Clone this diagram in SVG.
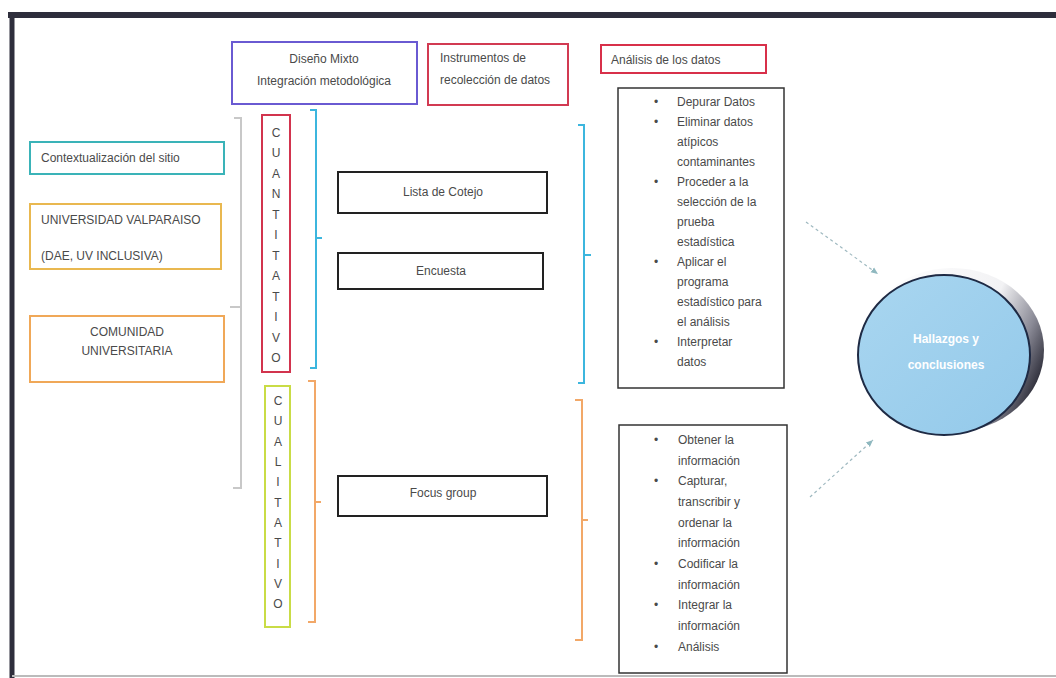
<svg xmlns="http://www.w3.org/2000/svg" width="1056" height="678" viewBox="0 0 1056 678">
<style>
text{font-family:"Liberation Sans",Arial,sans-serif;font-size:12px;fill:#4a4a4a}
.box{fill:#fff;stroke-width:2}
.blk{fill:#fff;stroke:#222;stroke-width:2}
.br{fill:none;stroke-width:2}
.c{text-anchor:middle}
.w{fill:#fff;font-weight:bold}
</style>
<defs>
<marker id="ah" markerWidth="8" markerHeight="8" refX="7" refY="4" orient="auto" markerUnits="userSpaceOnUse">
<path d="M0,1 L7,4 L0,7 Z" fill="#8fb8bf"/>
</marker>
<linearGradient id="shade" x1="0" y1="0.3" x2="1" y2="0.7">
<stop offset="0" stop-color="#ffffff"/>
<stop offset="0.6" stop-color="#f2f2f4"/>
<stop offset="0.82" stop-color="#8a8a96"/>
<stop offset="1" stop-color="#1e1e2a"/>
</linearGradient>
<linearGradient id="fillb" x1="0" y1="0" x2="1" y2="1">
<stop offset="0" stop-color="#a9d6f0"/>
<stop offset="1" stop-color="#93c9ea"/>
</linearGradient>
</defs>
<rect width="1056" height="678" fill="#fff"/>
<g id="frame">
<line x1="8" y1="15" x2="1056" y2="15" stroke="#2e2e3c" stroke-width="6"/>
<line x1="12" y1="12" x2="12" y2="678" stroke="#2e2e3c" stroke-width="5"/>
<line x1="12" y1="676" x2="1056" y2="676" stroke="#bbb" stroke-width="2"/>
</g>
<g id="n-diseno">
<rect class="box" x="232" y="42" width="185" height="62" stroke="#6a5ad2"/>
<text class="c" x="324" y="63">Diseño Mixto</text>
<text class="c" x="324" y="85">Integración metodológica</text>
</g>
<g id="n-instrumentos">
<rect class="box" x="428" y="44" width="140" height="61" stroke="#d23a52"/>
<text x="440" y="62">Instrumentos de</text>
<text x="440" y="84">recolección de datos</text>
</g>
<g id="n-analisis">
<rect class="box" x="601" y="45" width="165" height="28" stroke="#d8304a"/>
<text x="611" y="64">Análisis de  los datos</text>
</g>
<g id="n-contexto">
<rect class="box" x="30" y="142" width="194" height="32" stroke="#3ab3b8"/>
<text x="41" y="162">Contextualización del sitio</text>
</g>
<g id="n-uv">
<rect class="box" x="30" y="204" width="191" height="65" stroke="#e9b850"/>
<text x="41" y="224">UNIVERSIDAD VALPARAISO</text>
<text x="41" y="260">(DAE, UV INCLUSIVA)</text>
</g>
<g id="n-comunidad">
<rect class="box" x="30" y="316" width="194" height="66" stroke="#f0a858"/>
<text class="c" x="127" y="336">COMUNIDAD</text>
<text class="c" x="127" y="355">UNIVERSITARIA</text>
</g>
<g id="n-cuantitativo">
<rect class="box" x="262" y="115" width="28" height="257" stroke="#d2344e"/>
<text class="c" x="276" y="137">C</text>
<text class="c" x="276" y="157">U</text>
<text class="c" x="276" y="178">A</text>
<text class="c" x="276" y="198">N</text>
<text class="c" x="276" y="219">T</text>
<text class="c" x="276" y="239">I</text>
<text class="c" x="276" y="260">T</text>
<text class="c" x="276" y="280">A</text>
<text class="c" x="276" y="301">T</text>
<text class="c" x="276" y="321">I</text>
<text class="c" x="276" y="342">V</text>
<text class="c" x="276" y="362">O</text>
</g>
<g id="n-cualitativo">
<rect class="box" x="265" y="386" width="25" height="241" stroke="#c9dc46"/>
<text class="c" x="278" y="405">C</text>
<text class="c" x="278" y="425">U</text>
<text class="c" x="278" y="446">A</text>
<text class="c" x="278" y="466">L</text>
<text class="c" x="278" y="486">I</text>
<text class="c" x="278" y="507">T</text>
<text class="c" x="278" y="527">A</text>
<text class="c" x="278" y="547">T</text>
<text class="c" x="278" y="568">I</text>
<text class="c" x="278" y="588">V</text>
<text class="c" x="278" y="608">O</text>
</g>
<g id="n-lista">
<rect class="blk" x="338" y="172" width="209" height="41"/>
<text class="c" x="443" y="196">Lista de Cotejo</text>
</g>
<g id="n-encuesta">
<rect class="blk" x="338" y="253" width="205" height="36"/>
<text class="c" x="441" y="275">Encuesta</text>
</g>
<g id="n-focus">
<rect class="blk" x="338" y="476" width="209" height="40"/>
<text class="c" x="443" y="497">Focus group</text>
</g>
<g id="n-analisis-cuanti">
<rect fill="#fff" stroke="#333" stroke-width="1.5" x="618" y="88" width="166" height="300"/>
<text x="654" y="106">•</text><text x="677" y="106">Depurar Datos</text>
<text x="654" y="126">•</text><text x="677" y="126">Eliminar datos</text>
<text x="677" y="146">atípicos</text>
<text x="677" y="166">contaminantes</text>
<text x="654" y="186">•</text><text x="677" y="186">Proceder a la</text>
<text x="677" y="206">selección de la</text>
<text x="677" y="226">prueba</text>
<text x="677" y="246">estadística</text>
<text x="654" y="266">•</text><text x="677" y="266">Aplicar el</text>
<text x="677" y="286">programa</text>
<text x="677" y="306">estadístico para</text>
<text x="677" y="326">el análisis</text>
<text x="654" y="346">•</text><text x="677" y="346">Interpretar</text>
<text x="677" y="366">datos</text>
</g>
<g id="n-analisis-cuali">
<rect fill="#fff" stroke="#333" stroke-width="1.5" x="619" y="425" width="168" height="248"/>
<text x="654" y="444">•</text><text x="678" y="444">Obtener la</text>
<text x="678" y="465">información</text>
<text x="654" y="485">•</text><text x="678" y="485">Capturar,</text>
<text x="678" y="506">transcribir y</text>
<text x="678" y="527">ordenar la</text>
<text x="678" y="547">información</text>
<text x="654" y="568">•</text><text x="678" y="568">Codificar la</text>
<text x="678" y="589">información</text>
<text x="654" y="609">•</text><text x="678" y="609">Integrar la</text>
<text x="678" y="630">información</text>
<text x="654" y="651">•</text><text x="678" y="651">Análisis</text>
</g>
<g id="n-hallazgos">
<ellipse cx="952" cy="350" rx="92" ry="82" fill="url(#shade)"/>
<ellipse cx="944" cy="355" rx="86" ry="80" fill="url(#fillb)" stroke="#1e2a44" stroke-width="2"/>
<text class="c w" x="946" y="343">Hallazgos y</text>
<text class="c w" x="946" y="369">conclusiones</text>
</g>
<g id="connectors">
<path class="br" stroke="#c8c8c8" d="M234,118 H241 V488 H233 M241,307 H230"/>
<path class="br" stroke="#3cb6de" d="M310,110 H316 V368 H310 M316,238 H322"/>
<path class="br" stroke="#3cb6de" d="M578,125 H584 V383 H578 M584,255 H591"/>
<path class="br" stroke="#f2a868" d="M308,381 H315 V622 H308 M315,502 H321"/>
<path class="br" stroke="#f2a868" d="M575,400 H582 V640 H575 M582,520 H588"/>
<line x1="806" y1="222" x2="878" y2="274" stroke="#9fb9c0" stroke-width="1.2" stroke-dasharray="3,3" marker-end="url(#ah)"/>
<line x1="810" y1="497" x2="873" y2="440" stroke="#9fb9c0" stroke-width="1.2" stroke-dasharray="3,3" marker-end="url(#ah)"/>
</g>
</svg>
